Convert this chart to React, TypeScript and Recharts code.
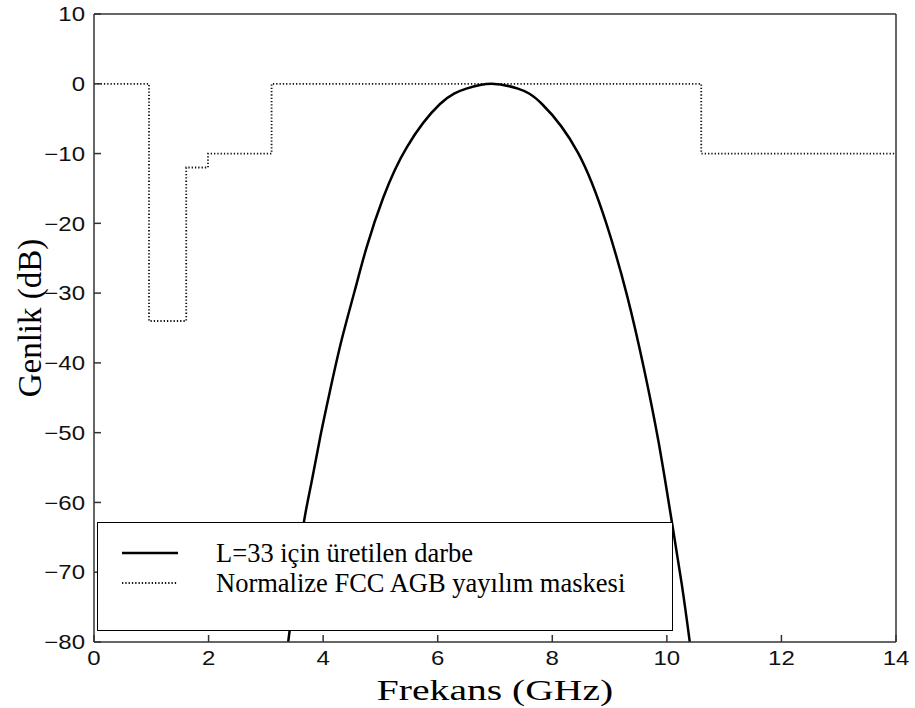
import { LineChart, Line, XAxis, YAxis, Legend } from 'recharts';

// Pulse spectrum (GHz, dB)
const pulseFreq = [3.39, 3.53, 3.66, 3.8, 3.94, 4.12, 4.32, 4.55, 4.76, 5.05, 5.46, 6.04, 6.5, 6.94, 7.4, 7.82, 8.45, 8.95, 9.31, 9.6, 9.85, 10.06, 10.26, 10.4];
const pulseDb = [-80, -71, -63, -57, -51, -44, -36.8, -29.7, -23.4, -16.3, -9.1, -2.9, -0.7, 0, -0.7, -2.9, -9.9, -20.2, -30.5, -40.8, -51.1, -61.4, -71.7, -80];

// Normalized FCC indoor UWB emission mask (corners of the step line)
const maskFreq = [0, 0.96, 0.96, 1.61, 1.61, 1.99, 1.99, 3.1, 3.1, 10.6, 10.6, 14];
const maskDb = [0, 0, -34, -34, -12, -12, -10, -10, 0, 0, -10, -10];

const xTicks = [0, 2, 4, 6, 8, 10, 12, 14];
const yTicks = [-80, -70, -60, -50, -40, -30, -20, -10, 0, 10];

const seriesNames = ['L=33 için üretilen darbe', 'Normalize FCC AGB yayılım maskesi'];

const pulseData = pulseFreq.map((f, i) => ({ f, db: pulseDb[i] }));
const maskData = maskFreq.map((f, i) => ({ f, db: maskDb[i] }));

const fmt = (v: number) => String(v).replace('-', '\u2212');

const sans = 'Liberation Sans, Arial, sans-serif';
const serif = 'Liberation Serif, Times New Roman, serif';

const BottomTick = (props: any) => {
  const { x, y, payload } = props;
  return (
    <g transform={`translate(${x},${y})`}>
      <text transform="scale(1.2,1)" textAnchor="middle" dy="0.72em" fill="#111" style={{ fontFamily: sans, fontSize: 20 }}>
        {fmt(payload.value)}
      </text>
    </g>
  );
};

const LeftTick = (props: any) => {
  const { x, y, payload } = props;
  return (
    <g transform={`translate(${x},${y})`}>
      <text transform="scale(1.2,1)" textAnchor="end" dy="0.36em" fill="#111" style={{ fontFamily: sans, fontSize: 20 }}>
        {fmt(payload.value)}
      </text>
    </g>
  );
};

const XTitle = (props: any) => {
  const { viewBox } = props;
  const cx = viewBox.x + viewBox.width / 2;
  const by = viewBox.y + viewBox.height - 8;
  return (
    <g transform={`translate(${cx},${by})`}>
      <text transform="scale(1.32,1)" textAnchor="middle" fill="#000" style={{ fontFamily: serif, fontSize: 30 }}>
        Frekans (GHz)
      </text>
    </g>
  );
};

const YTitle = (props: any) => {
  const { viewBox } = props;
  const bx = viewBox.x + 41;
  const cy = viewBox.y + viewBox.height / 2 - 10;
  return (
    <text x={bx} y={cy} transform={`rotate(-90,${bx},${cy})`} textAnchor="middle" fill="#000" style={{ fontFamily: serif, fontSize: 33 }}>
      Genlik (dB)
    </text>
  );
};

const LegendBox = () => (
  <div
    style={{
      width: 576,
      height: 109,
      boxSizing: 'border-box',
      border: '1.5px solid #000',
      background: '#fff',
      position: 'relative',
      fontFamily: serif,
      fontSize: 26.5,
      color: '#000',
    }}
  >
    {seriesNames.map((name, i) => (
      <div key={name} style={{ position: 'absolute', left: 24, top: 15 + i * 30, height: 30, display: 'flex', alignItems: 'center' }}>
        <svg width={56} height={6} style={{ display: 'block' }}>
          {i === 0 ? (
            <line x1={0} y1={3} x2={56} y2={3} stroke="#000" strokeWidth={2.5} />
          ) : (
            <line x1={0} y1={3} x2={56} y2={3} stroke="#111" strokeWidth={1.8} strokeDasharray="1.3 2" />
          )}
        </svg>
        <span style={{ marginLeft: 38, whiteSpace: 'nowrap' }}>{name}</span>
      </div>
    ))}
  </div>
);

export default function App() {
  return (
    <div style={{ position: 'absolute', left: 0, top: 0, background: '#fff' }}>
      <LineChart width={915} height={708} margin={{ top: 0, right: 0, bottom: 0, left: 0 }}>
        <XAxis
          xAxisId="top"
          orientation="top"
          type="number"
          dataKey="f"
          domain={[0, 14]}
          ticks={xTicks}
          allowDataOverflow
          height={14}
          tick={false}
          tickSize={-7}
          stroke="#333"
          strokeWidth={1.5}
        />
        <XAxis
          type="number"
          dataKey="f"
          domain={[0, 14]}
          ticks={xTicks}
          allowDataOverflow
          height={66}
          tick={<BottomTick />}
          tickSize={-7}
          tickMargin={16}
          stroke="#333"
          strokeWidth={1.5}
          label={<XTitle />}
        />
        <YAxis
          type="number"
          domain={[-80, 10]}
          ticks={yTicks}
          allowDataOverflow
          width={94}
          tick={<LeftTick />}
          tickSize={-7}
          tickMargin={16}
          stroke="#333"
          strokeWidth={1.5}
          label={<YTitle />}
        />
        <YAxis
          yAxisId="right"
          orientation="right"
          type="number"
          domain={[-80, 10]}
          ticks={yTicks}
          allowDataOverflow
          width={19}
          tick={false}
          tickSize={-7}
          stroke="#333"
          strokeWidth={1.5}
        />
        <Legend
          layout="horizontal"
          verticalAlign="middle"
          align="center"
          content={<LegendBox />}
          wrapperStyle={{ left: 97, top: 522, width: 576, height: 109 }}
        />
        <Line
          data={maskData}
          dataKey="db"
          name={seriesNames[1]}
          type="linear"
          stroke="#111"
          strokeWidth={1.8}
          strokeDasharray="1.3 2"
          dot={false}
          isAnimationActive={false}
        />
        <Line
          data={pulseData}
          dataKey="db"
          name={seriesNames[0]}
          type="natural"
          stroke="#000"
          strokeWidth={2.5}
          dot={false}
          isAnimationActive={false}
        />
      </LineChart>
    </div>
  );
}
